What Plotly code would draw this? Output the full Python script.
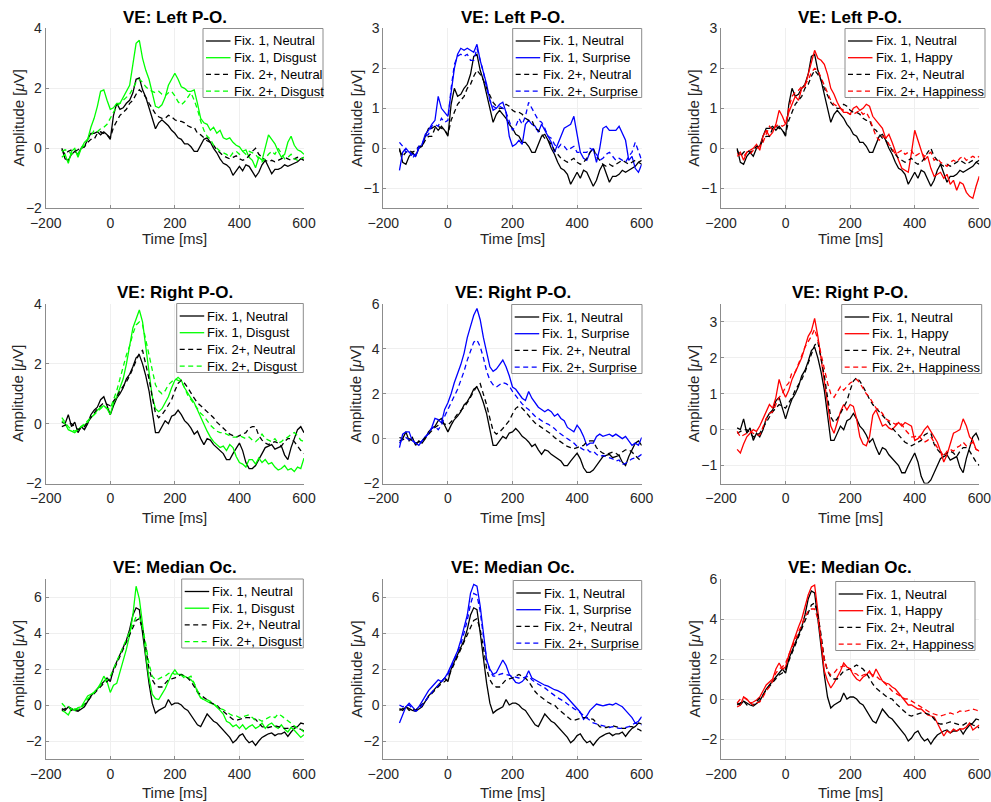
import plotly.graph_objects as go

# ---------------- data ----------------
TIME_MS = list(range(-150, 601, 10))
X_TICKS = [-200, 0, 200, 400, 600]

ROW_TITLES = ["VE: Left P-O.", "VE: Right P-O.", "VE: Median Oc."]
EMOTION_FIX1 = ["Fix. 1, Disgust", "Fix. 1, Surprise", "Fix. 1, Happy"]
EMOTION_FIX2 = ["Fix. 2+, Disgust", "Fix. 2+, Surprise", "Fix. 2+, Happiness"]
NEUTRAL_FIX1 = "Fix. 1, Neutral"
NEUTRAL_FIX2 = "Fix. 2+, Neutral"

# Row 1 (Left P-O.) neutral curves
R1_FIX1_NEUTRAL = [
    0.0, -0.35, -0.4, -0.2, -0.1, -0.2, 0.0, 0.05, 0.3, 0.5,
    0.5, 0.55, 0.45, 0.55, 0.45, 0.3, 1.1, 1.5, 1.3, 1.35,
    1.5, 1.6, 1.85, 2.3, 2.35, 1.95, 1.7, 1.35, 1.0, 0.65,
    0.85, 0.95, 0.85, 0.75, 0.6, 0.5, 0.35, 0.3, 0.15, 0.15,
    0.05, -0.1, -0.1, 0.1, 0.3, 0.35, 0.2, 0.0, -0.15, -0.35,
    -0.5, -0.55, -0.65, -0.9, -0.75, -0.6, -0.75, -0.55, -0.6, -0.8,
    -0.95, -0.8, -0.55, -0.4, -0.6, -0.85, -0.7, -0.7, -0.65, -0.55,
    -0.6, -0.55, -0.5, -0.45, -0.35, -0.3]
R1_FIX2_NEUTRAL = [
    -0.05, -0.2, -0.1, -0.05, -0.1, -0.05, 0.05, 0.05, 0.2, 0.3,
    0.3, 0.5, 0.55, 0.5, 0.45, 0.35, 0.7, 0.9, 1.1, 1.2,
    1.3, 1.5, 1.6, 1.8, 1.95, 1.85, 1.7, 1.5, 1.3, 1.15,
    1.05, 1.0, 1.0, 1.1, 1.05, 0.95, 0.9, 0.9, 0.85, 0.75,
    0.7, 0.7, 0.5, 0.45, 0.35, 0.25, 0.2, 0.1, -0.05, -0.15,
    -0.25, -0.3, -0.35, -0.3, -0.25, -0.35, -0.4, -0.35, -0.25, -0.1,
    0.0, -0.2, -0.3, -0.4, -0.45, -0.4, -0.45, -0.4, -0.35, -0.3,
    -0.35, -0.4, -0.35, -0.3, -0.35, -0.4]
# Row 2 (Right P-O.) neutral curves
R2_FIX1_NEUTRAL = [
    0.05, 0.0, 0.3, -0.1, 0.05, -0.3, -0.1, -0.2, 0.0, 0.3,
    0.45, 0.55, 0.8, 0.9, 0.6, 0.3, 0.6, 0.85, 1.0, 1.2,
    1.5, 1.65, 1.9, 2.2, 2.3, 2.0, 1.6, 1.1, 0.4, -0.3,
    -0.3, -0.1, 0.1, 0.0, 0.25, 0.3, 0.45, 0.3, 0.1, 0.0,
    -0.15, -0.35, -0.25, -0.5, -0.7, -0.5, -0.55, -0.7, -0.8, -0.9,
    -1.0, -1.2, -1.2, -1.0, -0.8, -0.65, -0.9, -1.3, -1.5, -1.5,
    -1.4, -1.2, -1.0, -0.8, -0.75, -0.7, -0.85, -0.8, -0.75, -1.05,
    -1.2, -0.8, -0.5, -0.2, -0.1, -0.3]
R2_FIX2_NEUTRAL = [
    -0.1, -0.05, 0.0, 0.0, -0.1, -0.2, -0.15, -0.1, 0.05, 0.2,
    0.35, 0.5, 0.6, 0.7, 0.65, 0.6, 0.75, 0.9, 1.1, 1.25,
    1.4, 1.6, 1.85, 2.1, 2.35, 2.45, 2.0, 1.5, 0.9, 0.35,
    0.2, 0.3, 0.45, 0.65, 0.8, 1.1, 1.35, 1.45, 1.35, 1.2,
    1.0, 0.85, 0.7, 0.6, 0.5, 0.4, 0.3, 0.2, 0.05, -0.05,
    -0.15, -0.25, -0.35, -0.4, -0.45, -0.4, -0.35, -0.3, -0.15, -0.1,
    -0.1, -0.4, -0.55, -0.65, -0.7, -0.65, -0.6, -0.65, -0.75, -0.6,
    -0.5, -0.5, -0.6, -0.75, -0.9, -1.0]
# Row 3 (Median Oc.) neutral curves
R3_FIX1_NEUTRAL = [
    -0.2, -0.3, -0.1, -0.2, -0.3, -0.35, -0.2, -0.1, 0.2, 0.5,
    0.7, 0.9, 1.1, 1.3, 1.5, 1.3, 2.0, 2.4, 2.8, 3.2,
    3.6, 4.2, 5.0, 5.4, 5.3, 4.0, 2.5, 1.2, 0.1, -0.45,
    -0.3, -0.2, -0.1, 0.3, 0.0, 0.1, 0.1, 0.0, -0.2, -0.3,
    -0.55, -0.8, -1.1, -1.2, -0.8, -0.5, -0.7, -0.9, -1.0, -1.2,
    -1.4, -1.6, -1.8, -2.1, -1.95, -1.7, -1.6, -1.9, -2.1, -2.0,
    -2.25, -2.0, -1.8, -1.7, -1.6, -1.55, -1.7, -1.6, -1.6, -1.5,
    -1.75, -1.5, -1.3, -1.2, -1.0, -1.05]
R3_FIX2_NEUTRAL = [
    -0.3, -0.2, -0.1, -0.3, -0.2, -0.3, -0.15, 0.0, 0.2, 0.45,
    0.65, 0.8, 1.0, 1.2, 1.3, 1.5, 1.9, 2.3, 2.7, 3.1,
    3.5, 3.9, 4.4, 4.7, 4.8, 4.2, 3.2, 2.0, 1.4, 1.1,
    1.0, 1.0, 1.2, 1.4, 1.45, 1.5, 1.6, 1.7, 1.6, 1.5,
    1.3, 1.0, 0.75, 0.55, 0.4, 0.25, 0.15, 0.05, 0.0, -0.2,
    -0.35, -0.5, -0.65, -0.8, -0.85, -0.8, -0.75, -0.7, -0.7, -0.75,
    -0.8, -1.0, -1.2, -1.25, -1.25, -1.2, -1.15, -1.2, -1.25, -1.3,
    -1.3, -1.2, -1.2, -1.3, -1.35, -1.45]

# Emotion curves, one pair per panel
P1_FIX1_DISGUST = [
    -0.3, -0.2, -0.5, -0.1, 0.0, -0.3, 0.0, 0.2, 0.3, 0.7,
    1.0, 1.4, 1.9, 1.95, 1.6, 1.3, 1.35, 1.5, 1.5, 1.7,
    1.9, 2.1, 2.8, 3.5, 3.6, 3.0, 2.6, 2.3, 1.85, 1.4,
    1.35, 1.45, 1.7, 2.1, 2.3, 2.5, 2.3, 2.05, 2.0, 1.9,
    1.9, 1.95, 1.5, 1.0, 0.85, 0.8, 0.6, 0.7, 0.5, 0.6,
    0.35, 0.3, 0.35, 0.2, 0.1, 0.05, -0.1, -0.05, -0.3, -0.4,
    -0.65, -0.3, -0.4, 0.0, 0.45, 0.3, 0.15, -0.1, -0.3, -0.2,
    0.2, 0.4, 0.1, -0.05, -0.1, -0.2]
P1_FIX2_DISGUST = [
    -0.1, -0.05, -0.1, -0.2, -0.15, -0.2, 0.0, 0.1, 0.3, 0.4,
    0.6, 0.55, 0.65, 0.7, 0.8, 1.0, 1.2, 1.4, 1.5, 1.6,
    1.7, 1.8, 2.0, 2.2, 2.3, 2.2, 2.05, 1.95, 1.9, 1.85,
    1.9, 1.8, 1.75, 1.85, 1.9, 1.75, 1.55, 1.45, 1.55, 1.7,
    1.85, 1.6, 1.3, 0.9, 0.6, 0.4, 0.3, 0.1, 0.0, -0.1,
    -0.15, -0.2, -0.3, -0.15, -0.1, -0.2, -0.1, -0.2, -0.1, -0.15,
    -0.2, -0.35, -0.45, -0.35, -0.2, -0.1, -0.2, 0.0, -0.2, -0.35,
    -0.3, -0.2, -0.35, -0.4, -0.35, -0.3]
P2_FIX1_SURPRISE = [
    -0.55, -0.1, 0.0, -0.1, -0.15, -0.2, 0.0, 0.1, 0.35, 0.45,
    0.6, 0.7, 1.3, 1.0, 0.9, 0.8, 1.4, 2.0, 2.35, 2.5,
    2.45, 2.5, 2.45, 2.4, 2.6, 2.2, 1.9, 1.6, 1.2, 0.95,
    1.0, 1.1, 1.15, 0.9, 0.3, 0.05, 0.1, 0.2, 0.1, 0.6,
    0.7, 0.6, 0.55, 0.4, 0.6, 0.45, 0.3, 0.15, -0.1, 0.1,
    0.3, 0.5, 0.55, 0.6, 0.8, 0.3, -0.1, -0.25, -0.3, -0.1,
    0.0, -0.35, 0.0, 0.5, 0.55, 0.45, 0.45, 0.45, 0.55, 0.35,
    0.2, -0.3, -0.2, -0.5, -0.6, -0.4]
P2_FIX2_SURPRISE = [
    0.15, 0.05, -0.1, -0.05, -0.25, -0.15, 0.05, 0.1, 0.3, 0.35,
    0.55, 0.6, 0.55, 0.75, 0.65, 0.7, 1.5, 2.1, 2.3, 2.35,
    2.3, 2.35, 2.2, 2.2, 2.5, 2.2, 1.9, 1.5, 1.2, 1.05,
    1.0, 1.05, 1.0, 0.9, 0.7, 0.45, 0.55, 0.75, 0.6, 0.8,
    1.15, 1.0, 0.85, 0.7, 0.65, 0.5, 0.3, 0.25, 0.1, 0.0,
    0.1, 0.05, -0.05, 0.0, 0.05, -0.1, -0.1, -0.1, -0.1, 0.0,
    -0.05, -0.15, -0.3, -0.25, -0.15, -0.1, -0.2, -0.3, -0.25, -0.3,
    -0.35, -0.2, -0.1, 0.15, -0.1, -0.3]
P3_FIX1_HAPPY = [
    -0.15, -0.1, -0.3, -0.1, -0.05, 0.0, 0.1, -0.05, 0.3, 0.45,
    0.3, 0.4, 0.6, 0.95, 0.8, 0.6, 0.9, 1.1, 1.3, 1.2,
    1.5, 1.55, 1.85, 2.2, 2.45, 2.25, 2.2, 2.1, 1.85, 1.5,
    1.35, 1.15, 1.0, 0.9, 0.9, 0.85, 1.0, 1.05, 0.95, 1.0,
    1.1, 1.05, 0.8, 0.7, 0.6, 0.5, 0.25, 0.35, 0.15, -0.1,
    -0.3, -0.5, -0.55, -0.6, -0.1, 0.45, 0.2, -0.05, -0.3, -0.2,
    -0.5, -0.7, -0.65, -0.6, -0.75, -0.65, -0.9, -0.8, -1.05, -0.85,
    -0.9, -1.1, -1.2, -1.25, -0.95, -0.7]
P3_FIX2_HAPPINESS = [
    -0.2, -0.15, -0.2, -0.1, -0.15, -0.05, 0.0, 0.05, 0.15, 0.35,
    0.55, 0.45, 0.55, 0.6, 0.55, 0.6, 1.0, 1.3, 1.4, 1.45,
    1.55, 1.6, 1.7, 1.9, 2.0, 1.95, 1.75, 1.55, 1.35, 1.2,
    1.1, 1.05, 1.0, 0.95, 0.9, 0.85, 0.85, 0.9, 0.95, 0.85,
    0.9, 0.75, 0.5, 0.3, 0.2, 0.3, 0.25, 0.1, 0.0, -0.15,
    -0.1, -0.05, -0.15, -0.1, -0.05, -0.2, -0.15, -0.1, -0.2, -0.15,
    -0.1, -0.3, -0.25, -0.35, -0.4, -0.45, -0.35, -0.3, -0.35, -0.25,
    -0.2, -0.3, -0.25, -0.2, -0.25, -0.2]
P4_FIX1_DISGUST = [
    0.1, 0.0, -0.2, -0.25, -0.3, -0.2, -0.1, -0.05, 0.05, 0.2,
    0.3, 0.45, 0.55, 0.6, 0.5, 0.3, 0.7, 0.9, 1.2, 1.5,
    2.0, 2.6, 3.2, 3.5, 3.8, 3.4, 2.5, 1.6, 0.9, 0.5,
    0.4, 0.5, 0.7, 0.9, 1.2, 1.45, 1.55, 1.45, 1.2, 1.0,
    0.85, 0.7, 0.45, 0.2, 0.0, -0.25, -0.45, -0.6, -0.7, -0.8,
    -0.75, -0.9, -0.7, -0.8, -1.1, -1.3, -1.35, -1.45, -1.2, -1.2,
    -1.35, -1.15, -1.3, -1.2, -1.35, -1.3, -1.45, -1.55, -1.5, -1.4,
    -1.55, -1.5, -1.6, -1.45, -1.5, -1.15]
P4_FIX2_DISGUST = [
    0.2, 0.05, -0.1, -0.2, -0.25, -0.2, -0.1, 0.0, 0.1, 0.2,
    0.3, 0.4, 0.5, 0.6, 0.5, 0.5, 0.8, 1.1, 1.5, 1.9,
    2.3, 2.6, 3.0, 3.3, 3.4, 3.3, 2.8, 2.2, 1.7, 1.3,
    1.1, 1.0, 1.1, 1.3, 1.4, 1.5, 1.45, 1.4, 1.2, 0.95,
    0.8, 0.65, 0.5, 0.35, 0.25, 0.1, -0.05, -0.15, -0.25, -0.3,
    -0.3, -0.35, -0.4, -0.45, -0.45, -0.4, -0.45, -0.5, -0.45, -0.55,
    -0.6, -0.5, -0.35, -0.5, -0.55, -0.6, -0.5, -0.65, -0.6, -0.5,
    -0.45, -0.35, -0.3, -0.4, -0.55, -0.6]
P5_FIX1_SURPRISE = [
    -0.4, 0.2, 0.3, 0.3, -0.1, -0.2, -0.3, -0.1, 0.1, 0.2,
    0.5, 0.9, 0.85, 0.7, 1.3, 1.6, 2.0, 2.5, 2.9, 3.3,
    3.8, 4.5, 5.0, 5.5, 5.8, 5.3, 4.5, 3.8, 3.2, 3.0,
    3.1, 3.3, 3.5, 3.2, 2.8, 2.3, 2.2, 2.0, 1.8, 1.7,
    2.1, 1.8, 1.6, 1.4, 1.3, 1.2, 1.3, 1.2, 1.0, 1.1,
    0.9, 0.8, 0.5, 0.4, 0.3, 0.6, 0.4, 0.1, -0.3, -0.2,
    -0.2, 0.1, 0.2, 0.1, 0.15, 0.2, 0.1, 0.2, 0.1, 0.0,
    0.1, -0.1, -0.3, -0.2, -0.3, 0.05]
P5_FIX2_SURPRISE = [
    -0.2, 0.0, 0.05, -0.05, -0.05, -0.2, -0.25, -0.1, 0.05, 0.25,
    0.45, 0.55, 0.4, 0.6, 1.0, 1.3, 1.6, 1.9, 2.2, 2.6,
    3.0, 3.5, 3.9, 4.3, 4.4, 4.1, 3.6, 3.0, 2.6, 2.4,
    2.3, 2.4, 2.5, 2.45, 2.35, 2.1, 1.9, 1.75, 1.55, 1.4,
    1.3, 1.15, 1.0, 0.9, 0.8, 0.7, 0.65, 0.55, 0.45, 0.3,
    0.2, 0.1, 0.0, -0.1, -0.2, -0.35, -0.4, -0.5, -0.45, -0.6,
    -0.55, -0.7, -0.8, -0.75, -0.8, -0.85, -0.9, -1.0, -0.95, -1.15,
    -1.1, -1.0, -0.9, -0.85, -0.8, -0.7]
P6_FIX1_HAPPY = [
    -0.55, -0.65, -0.4, -0.2, -0.1, 0.0, -0.05, 0.1, 0.3, 0.5,
    0.7, 0.6, 0.9, 1.4, 1.1, 0.9, 1.1, 1.4, 1.6, 1.8,
    2.0, 2.3, 2.6, 2.75, 3.1, 2.6, 2.0, 1.4, 0.7, 0.1,
    -0.1, 0.2, 0.5, 0.7, 0.55, 0.7, 0.65, 0.3, -0.2, -0.4,
    -0.45, -0.2, 0.4, 0.55, 0.35, 0.1, 0.15, 0.05, 0.0, 0.1,
    0.2, 0.1, 0.2, 0.15, 0.1, -0.3, -0.25, -0.15, 0.0, 0.1,
    -0.05, -0.2, -0.35, -0.6, -0.9, -0.7, -0.4, -0.1, -0.05, 0.0,
    0.3, 0.1, -0.2, -0.3, -0.55, -0.6]
P6_FIX2_HAPPINESS = [
    -0.05, -0.2, -0.15, -0.1, -0.05, -0.1, -0.15, -0.15, 0.1, 0.3,
    0.45, 0.5, 0.7, 0.9, 1.0, 1.2, 1.3, 1.6, 1.6, 1.85,
    2.1, 2.3, 2.45, 2.6, 2.8, 2.5, 2.1, 1.7, 1.3, 1.0,
    0.9, 1.05, 1.2, 1.1, 1.2, 1.3, 1.35, 1.4, 1.3, 1.15,
    1.0, 0.9, 0.75, 0.6, 0.55, 0.45, 0.3, 0.25, 0.2, 0.15,
    0.2, 0.15, 0.0, -0.1, -0.2, -0.2, -0.15, -0.25, -0.35, -0.3,
    -0.2, -0.35, -0.5, -0.6, -0.75, -0.6, -0.55, -0.6, -0.5, -0.45,
    -0.35, -0.45, -0.4, -0.35, -0.55, -0.6]
P7_FIX1_DISGUST = [
    -0.3, -0.4, -0.55, -0.2, -0.3, -0.15, -0.1, 0.2, 0.5, 0.6,
    0.7, 0.9, 1.2, 1.6, 1.3, 0.7, 1.1, 1.2, 1.8, 2.4,
    3.1, 3.9, 5.0, 6.6, 5.9, 4.5, 2.8, 1.5, 0.6, 0.35,
    0.3, 0.6, 0.9, 1.3, 1.7, 1.95, 1.7, 1.7, 1.6, 1.5,
    1.4, 1.2, 0.7, 0.4, 0.3, 0.2, 0.1, 0.05, -0.1, -0.3,
    -0.5, -0.9, -1.0, -1.2, -1.1, -1.3, -1.1, -1.35, -1.2, -1.1,
    -1.3, -1.2, -1.0, -1.3, -1.1, -1.0, -1.2, -1.3, -1.1, -1.35,
    -1.5, -1.25, -1.4, -1.6, -1.8, -1.65]
P7_FIX2_DISGUST = [
    0.1, -0.1, -0.05, -0.3, -0.2, -0.25, -0.2, 0.05, 0.35, 0.5,
    0.7, 0.85, 1.05, 1.3, 1.4, 1.6, 2.0, 2.4, 2.8, 3.2,
    3.6, 4.0, 4.5, 4.9, 4.9, 4.3, 3.4, 2.3, 1.6, 1.4,
    1.45, 1.55, 1.6, 1.75, 1.8, 1.7, 1.75, 1.65, 1.5, 1.5,
    1.6, 1.2, 0.7, 0.4, 0.3, 0.3, 0.2, 0.05, -0.05, -0.2,
    -0.25, -0.4, -0.5, -0.6, -0.6, -0.7, -0.65, -0.6, -0.55, -0.7,
    -0.85, -0.8, -0.9, -0.8, -0.7, -0.6, -0.7, -0.5, -0.6, -0.75,
    -0.9, -1.0, -1.2, -1.3, -1.35, -1.5]
P8_FIX1_SURPRISE = [
    -1.0, -0.6, -0.1, 0.1, -0.1, -0.3, -0.1, 0.2, 0.5, 0.8,
    1.0, 1.2, 1.4, 1.3, 1.5, 1.8, 2.2, 2.6, 3.0, 3.6,
    4.3, 5.0, 6.2, 6.7, 6.6, 5.5, 4.0, 2.5, 2.0, 1.7,
    1.8, 2.2, 2.5, 2.2, 1.7, 1.5, 1.25, 1.2, 1.3, 1.5,
    1.9, 1.5, 1.4, 1.3, 1.2, 1.1, 1.05, 0.95, 0.85, 0.8,
    0.7, 0.6, 0.4, 0.2, 0.0, -0.15, -0.4, -0.8, -0.6, -0.3,
    -0.1, 0.05, 0.0, -0.05, 0.0, 0.05, 0.0, 0.1, 0.0, -0.1,
    -0.3, -0.5, -0.7, -1.0, -0.9, -0.65]
P8_FIX2_SURPRISE = [
    0.0, -0.1, -0.05, 0.0, -0.2, -0.35, -0.25, 0.0, 0.2, 0.45,
    0.7, 0.9, 1.1, 1.3, 1.5, 1.7, 2.1, 2.5, 2.9, 3.4,
    4.0, 4.7, 5.6, 6.2, 6.1, 5.2, 3.8, 2.5, 1.9, 1.6,
    1.6, 1.7, 1.75, 1.7, 1.65, 1.6, 1.55, 1.5, 1.5, 1.55,
    1.6, 1.4, 1.25, 1.15, 1.05, 0.95, 0.8, 0.65, 0.5, 0.4,
    0.3, 0.2, 0.05, -0.1, -0.2, -0.3, -0.45, -0.6, -0.75, -0.85,
    -1.0, -1.05, -1.1, -1.15, -1.2, -1.25, -1.2, -1.25, -1.3, -1.3,
    -1.25, -1.2, -1.1, -1.0, -1.05, -1.1]
P9_FIX1_HAPPY = [
    -0.4, -0.3, 0.1, 0.0, -0.2, -0.15, -0.05, 0.1, 0.4, 0.7,
    0.85, 1.0, 1.5, 1.8, 1.5, 1.6, 2.2, 2.7, 3.1, 3.6,
    4.0, 4.6, 5.2, 5.6, 5.7, 4.4, 2.8, 1.4, 0.9, 0.55,
    0.8, 1.1, 1.4, 1.8, 1.6, 1.5, 1.2, 1.0, 0.9, 1.1,
    1.2, 1.4, 1.1, 1.5, 1.2, 0.9, 0.8, 0.75, 0.6, 0.5,
    0.3, 0.1, -0.1, -0.3, -0.3, -0.4, -0.5, -0.5, -0.65, -0.8,
    -0.85, -0.9, -1.2, -1.5, -1.85, -1.6, -1.7, -1.5, -1.6, -1.5,
    -1.5, -1.4, -1.2, -1.55, -1.4, -1.3]
P9_FIX2_HAPPINESS = [
    -0.2, 0.0, 0.1, -0.05, -0.2, -0.3, -0.2, -0.15, 0.1, 0.4,
    0.6, 0.9, 1.3, 1.5, 1.6, 1.8, 2.2, 2.6, 3.0, 3.4,
    3.8, 4.1, 4.4, 4.5, 4.5, 4.0, 3.0, 2.0, 1.4, 1.2,
    1.3, 1.5, 1.6, 1.65, 1.6, 1.5, 1.3, 1.25, 1.1, 1.2,
    1.25, 1.3, 1.2, 1.15, 1.0, 0.9, 0.75, 0.55, 0.4, 0.3,
    0.2, 0.1, 0.0, 0.0, -0.1, -0.2, -0.3, -0.4, -0.5, -0.6,
    -0.7, -0.75, -0.8, -0.85, -0.8, -0.75, -0.7, -0.75, -0.7, -0.6,
    -0.65, -0.6, -0.55, -0.5, -0.55, -0.6]

Y_RANGES = [[-2, 4], [-1.5, 3], [-1.5, 3],
            [-2, 4], [-2, 6], [-1.5, 3.5],
            [-3, 7], [-3, 7], [-3, 6]]
Y_TICKS = [[-2, 0, 2, 4], [-1, 0, 1, 2, 3], [-1, 0, 1, 2, 3],
           [-2, 0, 2, 4], [-2, 0, 2, 4, 6], [-1, 0, 1, 2, 3],
           [-2, 0, 2, 4, 6], [-2, 0, 2, 4, 6], [-2, 0, 2, 4, 6]]

NEUTRALS = [(R1_FIX1_NEUTRAL, R1_FIX2_NEUTRAL),
            (R2_FIX1_NEUTRAL, R2_FIX2_NEUTRAL),
            (R3_FIX1_NEUTRAL, R3_FIX2_NEUTRAL)]
EMOTIONS = [(P1_FIX1_DISGUST, P1_FIX2_DISGUST), (P2_FIX1_SURPRISE, P2_FIX2_SURPRISE),
            (P3_FIX1_HAPPY, P3_FIX2_HAPPINESS), (P4_FIX1_DISGUST, P4_FIX2_DISGUST),
            (P5_FIX1_SURPRISE, P5_FIX2_SURPRISE), (P6_FIX1_HAPPY, P6_FIX2_HAPPINESS),
            (P7_FIX1_DISGUST, P7_FIX2_DISGUST), (P8_FIX1_SURPRISE, P8_FIX2_SURPRISE),
            (P9_FIX1_HAPPY, P9_FIX2_HAPPINESS)]

# ---------------- styling / layout ----------------
COL_COLORS = ["#00ff00", "#0000ff", "#ff0000"]
W, H = 991, 802
FONT = "Liberation Sans, Arial, Helvetica, sans-serif"
TXT = "#262626"
AXC = "#8c8c8c"
DASH = "5px,3.5px"

COL_X = [(45.7, 304.0), (383.3, 641.7), (721.0, 979.3)]
ROW_Y = [(28.3, 208.3), (304.0, 483.5), (579.0, 759.0)]
TITLE_Y = [17.5, 292.0, 567.0]
XTITLE_Y = [238.5, 517.5, 792.0]
# legend boxes: left, right, top (pixels)
LEG = [(203.0, 323.0, 28.5), (512.7, 641.7, 28.5), (845.0, 985.0, 28.5),
       (176.7, 303.3, 303.5), (511.7, 642.0, 304.5), (841.7, 981.7, 304.5),
       (181.7, 303.3, 579.0), (513.3, 641.7, 580.5), (835.7, 975.0, 581.5)]
LEG_H = 69.0
LEG_STEP = 16.7


def fx(px):
    return px / W


def fy(py):
    return 1 - py / H


fig = go.Figure()
annotations = []
shapes = []
layout_axes = {}

for i in range(9):
    r, c = divmod(i, 3)
    s = "" if i == 0 else str(i + 1)
    color = COL_COLORS[c]
    n1, n2 = NEUTRALS[r]
    e1, e2 = EMOTIONS[i]
    names = [NEUTRAL_FIX1, EMOTION_FIX1[c], NEUTRAL_FIX2, EMOTION_FIX2[c]]
    series = [(n1, "black", "solid"), (e1, color, "solid"),
              (n2, "black", DASH), (e2, color, DASH)]
    for (yv, col, dash), nm in zip(series, names):
        fig.add_trace(go.Scatter(
            x=TIME_MS, y=yv, mode="lines", name=nm, showlegend=False,
            line=dict(color=col, width=1.3, dash=dash),
            xaxis="x" + s, yaxis="y" + s))

    x0, x1 = COL_X[c]
    y0, y1 = ROW_Y[r]
    common = dict(showline=True, linecolor=AXC, linewidth=1, mirror=False,
                  ticks="inside", ticklen=3, tickcolor=AXC, showgrid=True,
                  gridcolor="#efefef", zeroline=False, automargin=False,
                  ticklabeloverflow="allow",
                  tickfont=dict(family=FONT, size=14, color=TXT))
    layout_axes["xaxis" + s] = dict(
        domain=[fx(x0), fx(x1)], anchor="y" + s, range=[-200, 600],
        tickvals=X_TICKS, ticklabelstandoff=2, **common)
    layout_axes["yaxis" + s] = dict(
        domain=[fy(y1), fy(y0)], anchor="x" + s, range=Y_RANGES[i],
        tickvals=Y_TICKS[i], **common)

    xc = (x0 + x1) / 2
    annotations.append(dict(
        text="<b>" + ROW_TITLES[r] + "</b>", x=fx(xc), y=fy(TITLE_Y[r]),
        xref="paper", yref="paper", xanchor="center", yanchor="middle",
        showarrow=False, font=dict(family=FONT, size=17, color="black")))
    annotations.append(dict(
        text="Time [ms]", x=fx(xc), y=fy(XTITLE_Y[r]),
        xref="paper", yref="paper", xanchor="center", yanchor="middle",
        showarrow=False, font=dict(family=FONT, size=15, color=TXT)))
    annotations.append(dict(
        text="Amplitude [<i>\u03bc</i>V]", x=fx(x0 - 27.5), y=fy((y0 + y1) / 2),
        xref="paper", yref="paper", xanchor="center", yanchor="middle",
        textangle=-90, showarrow=False,
        font=dict(family=FONT, size=15, color=TXT)))

    # legend box
    lx0, lx1, lt = LEG[i]
    shapes.append(dict(type="rect", xref="paper", yref="paper",
                       x0=fx(lx0), x1=fx(lx1), y0=fy(lt + LEG_H), y1=fy(lt),
                       fillcolor="white", line=dict(color=AXC, width=1),
                       layer="above"))
    for k, ((_, col, dash), nm) in enumerate(zip(series, names)):
        yy = lt + 12.5 + k * LEG_STEP
        shapes.append(dict(type="line", xref="paper", yref="paper",
                           x0=fx(lx0 + 3), x1=fx(lx0 + 27.5), y0=fy(yy), y1=fy(yy),
                           line=dict(color=col, width=1.3, dash=dash),
                           layer="above"))
        annotations.append(dict(
            text=nm, x=fx(lx0 + 28.5), y=fy(yy), xref="paper", yref="paper",
            xanchor="left", yanchor="middle", showarrow=False,
            font=dict(family=FONT, size=13, color="black")))

fig.update_layout(
    width=W, height=H, margin=dict(l=0, r=0, t=0, b=0, autoexpand=False),
    paper_bgcolor="white", plot_bgcolor="white",
    showlegend=False, annotations=annotations, shapes=shapes,
    **layout_axes)

fig.write_html(
    "out.html",
    config={"displayModeBar": False},
    post_script="document.body.style.margin='0';document.body.style.overflow='hidden';")
